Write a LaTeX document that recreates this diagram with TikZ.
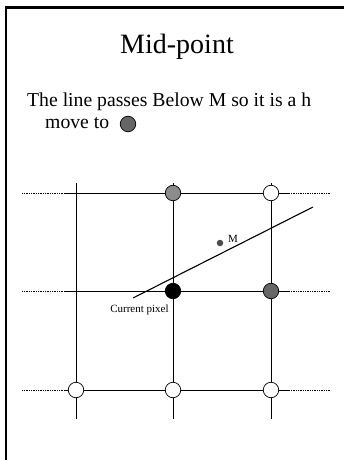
\documentclass[tikz,border=0pt]{standalone}
\usepackage{fontspec}
\setmainfont{Liberation Serif}
\usetikzlibrary{positioning}
\begin{document}
\begin{tikzpicture}[x=1pt,y=-1pt,
   pix/.style={circle,draw,line width=0.7pt,minimum size=15.5pt,inner sep=0pt,fill=white},
   grid/.style={line width=0.75pt},
   ext/.style={densely dotted,line width=0.75pt},
   lbl/.style={font=\fontsize{11}{12}\selectfont,inner sep=0pt}]
  \useasboundingbox (0,0) rectangle (343,460);

  % ---- slide frame ----
  \draw[line width=2.3pt] (6,470) -- (6,7.5) -- (350,7.5);

  % ---- texts ----
  \node[font=\fontsize{28}{32}\selectfont,anchor=base,inner sep=0pt] (title) at (177,53) {Mid-point};
  \node[font=\fontsize{19.7}{22}\selectfont,anchor=base west,inner sep=0pt] (txt) at (27,106) {The line passes Below M so it is a h};
  \node[font=\fontsize{19.7}{22}\selectfont,anchor=base west,inner sep=0pt] (txtb) at (45,128) {move to};
  \node[pix,fill=black!60] (mv) at (128,124) {};

  % ---- grid ----
  \foreach \x/\n in {76/a,173/b,271/c}{
    \coordinate (\n top) at (\x,183);
    \coordinate (\n bot) at (\x,419);
    \draw[grid] (\n top) -- (\n bot);
  }
  \foreach \y/\n in {193/1,291/2,390/3}{
    \coordinate (l\n) at (22,\y);
    \coordinate (s\n) at (65,\y);
    \coordinate (e\n) at (289,\y);
    \coordinate (r\n) at (331,\y);
    \draw[ext] (l\n) -- (s\n);
    \draw[grid] (s\n) -- (e\n);
    \draw[ext] (e\n) -- (r\n);
  }

  % ---- pixels ----
  \node[pix,fill=black!45] (b1) at (173,193) {};
  \node[pix] (c1) at (271,193) {};
  \node[pix,fill=black] (b2) at (173,291) {};
  \node[pix,fill=black!60] (c2) at (271,291) {};
  \node[pix] (a3) at (76,390) {};
  \node[pix] (b3) at (173,390) {};
  \node[pix] (c3) at (271,390) {};

  % ---- line and midpoint ----
  \coordinate (ls) at (133,298);
  \coordinate (le) at (313,207);
  \draw[line width=1.1pt] (ls) -- (le);
  \node[circle,fill=black!70,minimum size=6.5pt,inner sep=0pt] (mid) at (220,243) {};
  \node[lbl,anchor=base west] (mlbl) at (228,242) {M};
  \node[lbl,anchor=base] (cur) at (139.5,312) {Current pixel};
\end{tikzpicture}
\end{document}
